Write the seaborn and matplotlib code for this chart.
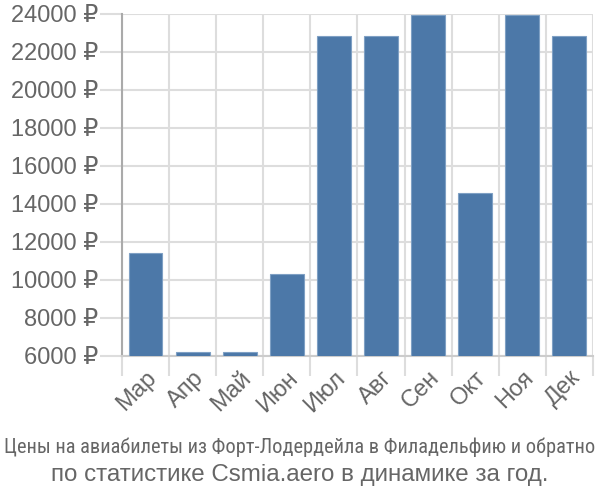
import matplotlib
matplotlib.use("Agg")
import matplotlib.pyplot as plt
import seaborn as sns
import pandas as pd
import numpy as np

months = ["Мар", "Апр", "Май", "Июн", "Июл", "Авг", "Сен", "Окт", "Ноя", "Дек"]
prices = [11390, 6220, 6220, 10290, 22840, 22840, 23950, 14540, 23950, 22840]
ytick_values = [6000, 8000, 10000, 12000, 14000, 16000, 18000, 20000, 22000, 24000]
title_line1 = "Цены на авиабилеты из Форт-Лодердейла в Филадельфию и обратно"
title_line2 = "по статистике Csmia.aero в динамике за год."

sns.set_theme(style="white")
plt.rcParams['font.family'] = ['Liberation Sans', 'DejaVu Sans']

df = pd.DataFrame({"month": months, "price": prices})

fig = plt.figure(figsize=(6, 5), dpi=100)
ax = fig.add_axes([0.2033, 0.2886, 0.785, 0.684])

grid_c = "#dddddd"
text_c = "#666666"

sns.barplot(data=df, x="month", y="price", color="#4c78a8", saturation=1,
            width=0.72, edgecolor="#7fa0c4", linewidth=0.8, ax=ax, zorder=3)

ax.set_ylim(6000, 24000)
ax.set_xlim(-0.5, len(months) - 0.5)
ax.set_yticks(ytick_values)
ax.set_yticklabels([f"{v} ₽" for v in ytick_values])
ax.set_xticks(range(len(months)))
ax.set_xticklabels(months, rotation=45, ha="right", rotation_mode="anchor")
ax.set_xticks(np.arange(-0.5, len(months) - 0.4, 1.0), minor=True)

ax.tick_params(axis="y", which="major", length=16, color=grid_c, width=1.5,
               labelsize=17, labelcolor=text_c, pad=1, left=True)
ax.tick_params(axis="x", which="major", length=0, labelsize=17,
               labelcolor=text_c, pad=8)
ax.tick_params(axis="x", which="minor", length=14.5, color=grid_c, width=1.5,
               bottom=True)
ax.grid(True, axis="y", which="major", color=grid_c, linewidth=1.5, zorder=0)
ax.grid(True, axis="x", which="minor", color=grid_c, linewidth=1.5, zorder=0)
ax.set_axisbelow(True)

for s in ["top", "right"]:
    ax.spines[s].set_visible(False)
ax.spines["left"].set_color("#aaaaaa")
ax.spines["left"].set_linewidth(1.5)
ax.spines["left"].set_bounds(6000, 24000)
ax.spines["bottom"].set_color("#cccccc")
ax.spines["bottom"].set_linewidth(1.5)
ax.set_xlabel("")
ax.set_ylabel("")

fig.text(0.5, 0.105, title_line1, ha="center", va="center", fontsize=14.7,
         color=text_c, family=['Roboto Condensed', 'Open Sans Condensed', 'DejaVu Sans'],
         fontstretch='condensed')
fig.text(0.5, 0.05, title_line2, ha="center", va="center", fontsize=17.4,
         color=text_c)

fig.savefig("out.png", dpi=100)
